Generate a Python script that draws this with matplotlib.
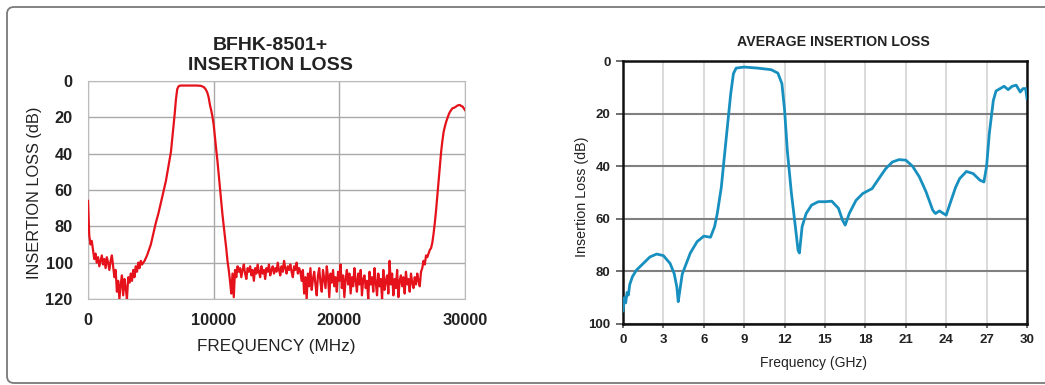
import numpy as np
import matplotlib
matplotlib.use("Agg")
import matplotlib.pyplot as plt
from matplotlib.patches import FancyBboxPatch
from matplotlib.transforms import IdentityTransform

plt.rcParams['font.family'] = ['Liberation Sans', 'DejaVu Sans']

# left chart: BFHK-8501+ insertion loss, one value every 100 MHz (0..30000)
bfhk_loss_db = [
    66, 85, 90, 88, 93, 98, 95, 100, 97, 102,
    99, 96, 101, 98, 103, 97, 100, 104, 99, 96,
    102, 108, 104, 116, 110, 120, 112, 107, 118, 109,
    114, 120, 108, 111, 106, 110, 104, 108, 102, 105,
    100, 103, 99, 101, 100, 99, 97.5, 96, 94, 92,
    90, 87, 84, 81, 78, 75.5, 73, 70, 67, 64,
    61, 58, 55, 51, 47, 43, 39, 32, 25, 18,
    10, 4.5, 3, 2.6, 2.5, 2.5, 2.5, 2.5, 2.5, 2.5,
    2.5, 2.5, 2.5, 2.5, 2.5, 2.5, 2.5, 2.5, 2.6, 2.6,
    2.7, 3, 3.3, 4, 5, 6.5, 9, 13, 16, 19.5,
    24, 31, 37.5, 44, 51.5, 59, 66, 73.5, 80, 86,
    92, 99, 104, 110, 117, 106, 119, 104, 108, 102,
    105, 103, 108, 104, 101, 106, 109, 103, 105, 102,
    107, 104, 110, 103, 106, 101, 105, 108, 102, 106,
    104, 109, 103, 105, 101, 107, 104, 102, 106, 103,
    105, 100, 104, 107, 102, 105, 99, 103, 106, 102,
    104, 101, 105, 108, 102, 104, 100, 106, 103, 105,
    110, 104, 117, 108, 120, 106, 113, 103, 115, 109,
    105, 112, 118, 107, 103, 111, 116, 104, 109, 114,
    102, 108, 119, 106, 111, 104, 113, 108, 116, 105,
    110, 101, 114, 107, 119, 109, 104, 112, 106, 117,
    108, 113, 103, 110, 116, 106, 112, 104, 118, 109,
    107, 114, 110, 120, 105, 112, 108, 116, 103, 111,
    118, 106, 113, 109, 120, 104, 115, 110, 107, 117,
    99, 112, 106, 118, 109, 114, 104, 119, 110, 107,
    113, 108, 117, 105, 112, 109, 116, 106, 111, 114,
    108, 112, 106, 110, 113, 105, 103, 99, 101, 96,
    97, 95, 93, 92, 89, 84, 78, 71, 63, 55,
    47, 39, 33, 28, 25, 22.5, 20.5, 18.5, 17, 16,
    15, 14.8, 14.5, 14, 13.5, 13.3, 13.2, 13.8, 14, 15,
    16,
]
bfhk_freq_mhz = np.arange(len(bfhk_loss_db)) * 100

# right chart: average insertion loss
avg_freq_ghz = [0, 0.1, 0.2, 0.3, 0.4, 0.5, 0.7, 1.0, 1.5, 2.0, 2.5, 3.0, 3.5, 3.8,
                4.0, 4.1, 4.2, 4.4, 5.0, 5.5, 6.0, 6.5, 6.8, 7.0, 7.3, 7.5, 7.8,
                8.0, 8.2, 8.4, 9.0, 10.0, 11.0, 11.5, 11.8, 12.0, 12.2, 12.5, 12.8,
                13.0, 13.1, 13.3, 13.6, 14.0, 14.5, 15.0, 15.5, 16.0, 16.3, 16.5,
                16.8, 17.3, 17.8, 18.5, 19.0, 19.5, 20.0, 20.5, 21.0, 21.5, 22.0,
                22.5, 23.0, 23.2, 23.5, 23.8, 24.0, 24.3, 24.7, 25.0, 25.5, 26.0,
                26.5, 26.8, 27.0, 27.2, 27.5, 27.7, 28.0, 28.3, 28.6, 28.9, 29.2,
                29.5, 29.7, 29.9, 30.0]
avg_loss_db = [95, 90, 92, 88, 89, 85, 82, 79.5, 77, 74.5, 73.4, 74, 77, 80.8,
               86, 91.5, 88, 81, 73, 68.7, 66.6, 67, 63, 58, 48, 37.7, 22.5,
               12.4, 4.8, 2.7, 2.3, 2.7, 3.3, 4.6, 8.6, 18.7, 34, 50, 63,
               72, 73, 63, 58, 54.8, 53.5, 53.5, 53.3, 56, 60.5, 62.4,
               58, 53, 50.4, 48.5, 44.7, 41, 38.4, 37.5, 37.7, 40, 44,
               49.7, 56.7, 58, 57, 58, 58.6, 54, 48, 44.7, 42, 42.8,
               45.3, 46, 40, 27.6, 15, 11.4, 10.5, 9.6, 10.9, 9.6, 9.2,
               11.8, 10.5, 10.5, 14.3]

W, H = 1045, 385
fig = plt.figure(figsize=(W / 100, H / 100), dpi=100)

# rounded frame around both charts (pixel coords)
frame = FancyBboxPatch((7, 2), 1060, 376, boxstyle="round,pad=0,rounding_size=7",
                       transform=IdentityTransform(), facecolor='none',
                       edgecolor='#7a7a7a', linewidth=1.3)
fig.patches.append(frame)


def px_axes(left, top, right, bottom):
    return fig.add_axes([left / W, 1 - bottom / H, (right - left) / W, (bottom - top) / H])


# ---- left chart
ax1 = px_axes(88, 81, 465, 299)
ax1.plot(bfhk_freq_mhz, bfhk_loss_db, color='#e5121b', lw=1.6, zorder=3)
ax1.set_xlim(0, 30000)
ax1.set_ylim(120, 0)
ax1.set_xticks([0, 10000, 20000, 30000])
ax1.set_yticks([0, 20, 40, 60, 80, 100, 120])
ax1.grid(True, color='#a9a9a9', lw=1.0)
for s in ax1.spines.values():
    s.set_color('#bbbbbb')
ax1.tick_params(length=0, labelsize=11.8, colors='#222222')
ax1.tick_params(axis='y', pad=11)
ax1.tick_params(axis='x', pad=10)
for lab in ax1.get_xticklabels() + ax1.get_yticklabels():
    lab.set_fontweight('bold')
fig.text(270 / W, 1 - 45 / H, "BFHK-8501+", ha='center', va='center',
         fontsize=14, fontweight='bold', color='#222222')
fig.text(270 / W, 1 - 66 / H, "INSERTION LOSS", ha='center', va='center',
         fontsize=14, fontweight='bold', color='#222222')
fig.text(276 / W, 1 - 346 / H, "FREQUENCY (MHz)", ha='center', va='center',
         fontsize=12.3, color='#222222')
fig.text(35 / W, 1 - 193 / H, "INSERTION LOSS (dB)", ha='center', va='center',
         rotation=90, fontsize=11.8, color='#222222')

# ---- right chart
ax2 = px_axes(623, 61, 1027, 324)
ax2.plot(avg_freq_ghz, avg_loss_db, color='#1790c0', lw=2.0, zorder=3)
ax2.set_xlim(0, 30)
ax2.set_ylim(100, 0)
ax2.set_xticks(np.arange(0, 31, 3))
ax2.set_yticks(np.arange(0, 101, 20))
ax2.grid(True, axis='y', color='#808080', lw=1.5)
ax2.grid(True, axis='x', color='#d8d8d8', lw=1.3)
for s in ax2.spines.values():
    s.set_color('#111111')
    s.set_linewidth(1.8)
ax2.tick_params(axis='y', length=5, width=1.2, color='#555555', labelsize=9.5, pad=4,
                labelcolor='#222222')
ax2.tick_params(axis='x', length=3, width=1.2, color='#555555', labelsize=9.5, pad=4,
                labelcolor='#222222')
for lab in ax2.get_xticklabels() + ax2.get_yticklabels():
    lab.set_fontweight('bold')
fig.text(833 / W, 1 - 42 / H, "AVERAGE INSERTION LOSS", ha='center', va='center',
         fontsize=10.2, fontweight='bold', color='#222222')
fig.text(813 / W, 1 - 363 / H, "Frequency (GHz)", ha='center', va='center',
         fontsize=10, color='#222222')
fig.text(582 / W, 1 - 197 / H, "Insertion Loss (dB)", ha='center', va='center',
         rotation=90, fontsize=10.3, color='#222222')

fig.savefig("out.png", dpi=100)
